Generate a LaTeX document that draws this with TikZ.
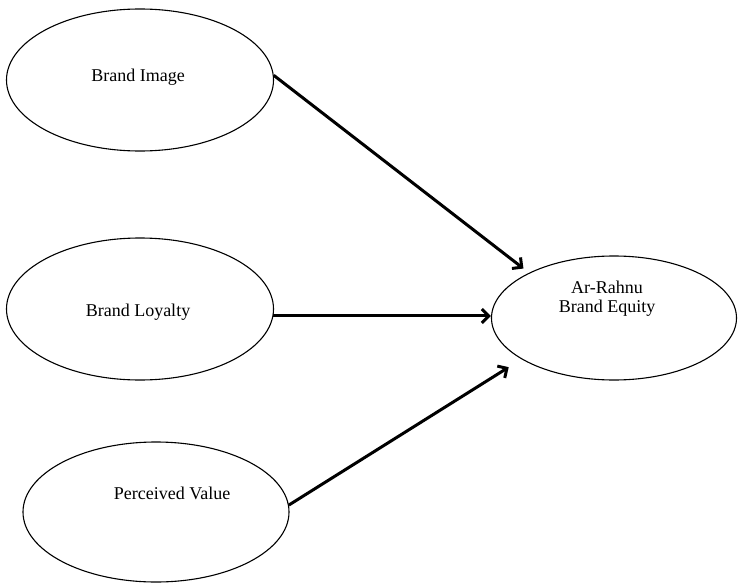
\documentclass[tikz,border=0pt]{standalone}
\usepackage{fontspec}
\setmainfont{Liberation Serif}
\usetikzlibrary{shapes.geometric,arrows.meta}
\begin{document}
\begin{tikzpicture}[x=1pt,y=-1pt,
  construct/.style={ellipse,draw,line width=1.1pt,inner sep=0pt},
  lbl/.style={font=\fontsize{18}{22}\selectfont,align=center,inner sep=0pt},
  path/.style={line width=3pt,-{Straight Barb[length=7pt,width=14pt]}}]
\useasboundingbox (0,0) rectangle (738,583);
\node[construct,minimum width=267pt,minimum height=142pt] (e1) at (140,80) {};
\node[construct,minimum width=267pt,minimum height=142pt] (e2) at (140,309) {};
\node[construct,minimum width=266pt,minimum height=140pt] (e3) at (156,512) {};
\node[construct,minimum width=245pt,minimum height=124pt] (e4) at (614,318) {};
\node[lbl] (t1) at (138,77) {Brand Image};
\node[lbl] (t2) at (138,312) {Brand Loyalty};
\node[lbl] (t3) at (172,493) {Perceived Value};
\node[lbl] (t4) at (607,299) {Ar-Rahnu\\[-3pt]Brand Equity};
\draw[path,shorten >=7pt] (e1.2) -- (e4.152.4);
\draw[path] (e2.-3.4) -- (e2.-3.4 -| e4.west);
\draw[path,shorten >=15pt] (e3.3) -- (e4.204.6);
\end{tikzpicture}
\end{document}
